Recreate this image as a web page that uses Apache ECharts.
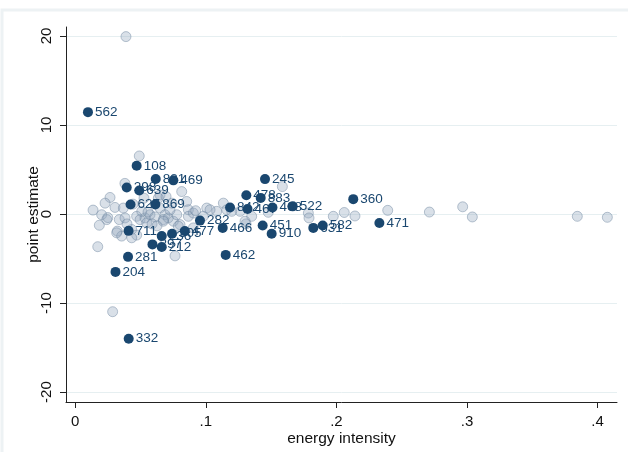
<!DOCTYPE html>
<html>
<head>
<meta charset="utf-8">
<script src="https://cdn.jsdelivr.net/npm/echarts@6/dist/echarts.min.js"></script>
<style>html,body{margin:0;padding:0;background:#fff}#c{width:628px;height:452px}</style>
</head>
<body>
<div id="c"></div>
<script>
// Background (unlabelled) estimates: [energy intensity, point estimate]
const grayPoints = [
  [0.0388,19.92],[0.0286,-10.97],[0.049,6.52],[0.038,3.44],[0.0266,1.86],[0.0228,1.22],
  [0.0304,0.74],[0.0202,-0.08],[0.0241,-0.63],[0.0184,-1.26],[0.0172,-3.67],[0.0322,-1.92],
  [0.0337,-0.63],[0.0381,-0.44],[0.0368,0.67],[0.047,-0.26],[0.0496,-0.63],[0.0534,-0.44],
  [0.0547,-1.0],[0.0572,-0.08],[0.0509,0.3],[0.0432,-1.74],[0.0355,-2.48],[0.0317,-2.11],
  [0.047,-2.37],[0.0649,2.14],[0.0636,1.78],[0.0649,0.67],[0.0687,-0.08],[0.0674,-0.63],
  [0.0712,-0.44],[0.0751,-0.81],[0.0777,-0.08],[0.0815,2.52],[0.0853,1.41],[0.0866,0.48],
  [0.0866,-0.26],[0.0802,-1.19],[0.0764,-4.7],[0.0904,0.11],[0.1007,0.67],[0.1083,0.3],
  [0.1134,1.22],[0.116,0.48],[0.1262,0.3],[0.1351,-0.26],[0.1308,-1.11],[0.1478,0.19],
  [0.1586,3.08],[0.1785,0.11],[0.179,-0.44],[0.1976,-0.26],[0.206,0.17],[0.2142,-0.22],
  [0.2393,0.41],[0.2712,0.22],[0.2967,0.81],[0.3041,-0.33],[0.3845,-0.26],[0.4075,-0.37],
  [0.13,-0.81],[0.0922,0.37],[0.098,-0.26],[0.0526,1.78],[0.0695,1.97],[0.0432,-2.67],
  [0.0789,-1.37],[0.0904,-1.56],[0.0557,0.22],[0.061,-0.33],[0.0588,-1.11],[0.0626,-1.33],
  [0.0725,0.44],[0.0741,1.22],[0.0442,1.11],[0.0396,-1.11],[0.0136,0.44],[0.1032,0.48],
  [0.1198,0.3],[0.0674,-0.81],[0.0249,-0.4]
];
// Highlighted (labelled) estimates
const navyLabels = ['562','332','108','881','469','298','639','627','869','711','281','204',
  '297','212','236','305','477','282','466','462','842','478','467','883','245','451','910',
  '408','522','631','582','360','471'];
const navyX = [0.0097,0.0409,0.047,0.0616,0.0751,0.0394,0.049,0.0423,0.0613,0.0408,0.0404,0.0308,
  0.0591,0.0662,0.0662,0.0741,0.0839,0.0955,0.1129,0.1152,0.1185,0.131,0.1319,0.142,0.1453,0.1435,0.1504,
  0.151,0.1665,0.1823,0.1895,0.2129,0.2329];
const navyY = [11.44,-14.0,5.41,3.94,3.78,2.97,2.64,1.06,1.08,-1.89,-4.81,-6.5,
  -3.41,-3.7,-2.48,-2.22,-1.92,-0.74,-1.56,-4.59,0.74,2.11,0.56,1.81,3.92,-1.3,-2.22,
  0.74,0.86,-1.56,-1.3,1.67,-1.0];
const xTicks = [0, 0.1, 0.2, 0.3, 0.4];
const yTicks = [-20, -10, 0, 10, 20];

const navyData = navyX.map((x, i) => ({ value: [x, navyY[i]], name: navyLabels[i] }));
const font = 'Liberation Sans, Arial, sans-serif';

const chart = echarts.init(document.getElementById('c'), null, { renderer: 'canvas' });
chart.setOption({
  animation: false,
  backgroundColor: '#fff',
  graphic: [{
    type: 'rect', silent: true, z: -1,
    shape: { x: 2, y: 10, width: 700, height: 500 },
    style: { fill: 'none', stroke: '#edf2f4', lineWidth: 3 }
  }],
  grid: { left: 66, right: 11, top: 27, bottom: 46, containLabel: false },
  xAxis: {
    type: 'value', min: -0.00712, max: 0.4149,
    name: 'energy intensity', nameLocation: 'middle', nameGap: 29, nameMoveOverlap: false,
    nameTextStyle: { fontFamily: font, fontSize: 15.5, color: '#111' },
    axisLine: { show: true, onZero: false, lineStyle: { color: '#222', width: 1 } },
    axisTick: { show: true, length: 6, customValues: xTicks, lineStyle: { color: '#222' } },
    axisLabel: { customValues: xTicks, margin: 12, fontFamily: font, fontSize: 15, color: '#111',
      formatter: v => v === 0 ? '0' : String(+v.toFixed(2)).replace(/^0\./, '.') },
    splitLine: { show: false }
  },
  yAxis: {
    type: 'value', min: -21.11, max: 21.0,
    name: 'point estimate', nameLocation: 'middle', nameGap: 24, nameMoveOverlap: false,
    nameTextStyle: { fontFamily: font, fontSize: 15.5, color: '#111' },
    axisLine: { show: true, onZero: false, lineStyle: { color: '#222', width: 1 } },
    axisTick: { show: true, length: 6, customValues: yTicks, lineStyle: { color: '#222' } },
    axisLabel: { customValues: yTicks, rotate: 90, margin: 12, fontFamily: font, fontSize: 15, color: '#111' },
    splitLine: { show: true, lineStyle: { color: '#e6eff1', width: 1 } }
  },
  series: [
    {
      type: 'scatter', data: grayPoints, symbolSize: 10,
      itemStyle: { opacity: 1, color: 'rgba(150,170,192,0.36)', borderColor: 'rgba(105,128,155,0.45)', borderWidth: 1 },
      emphasis: { disabled: true }, z: 2
    },
    {
      type: 'scatter', data: navyData, symbolSize: 10,
      itemStyle: { opacity: 1, color: '#1a476f' },
      label: { show: true, position: 'right', distance: 2, formatter: p => p.name,
        fontFamily: font, fontSize: 13.5, color: '#1a476f' },
      labelLayout: { hideOverlap: false },
      emphasis: { disabled: true }, z: 3
    }
  ]
});
</script>
</body>
</html>
